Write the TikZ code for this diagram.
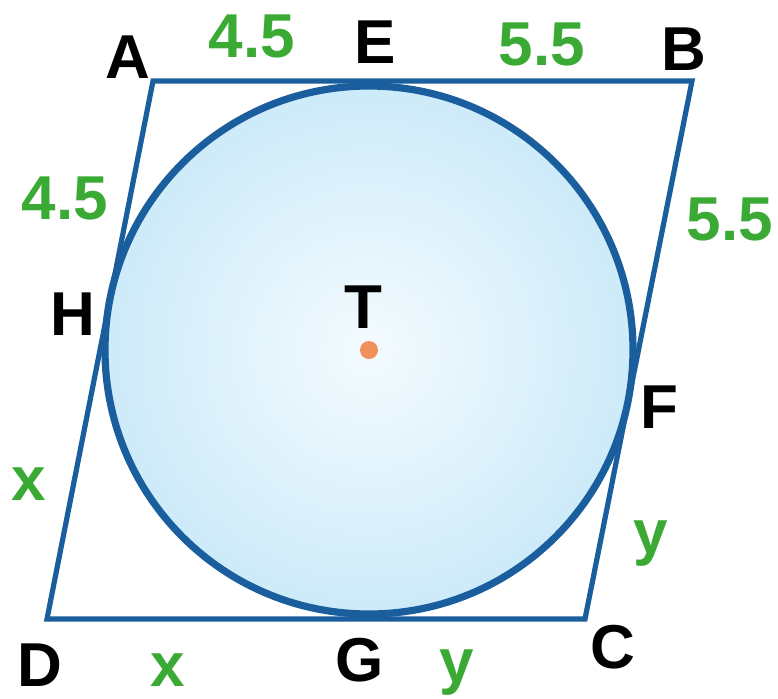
\documentclass[tikz,border=0pt]{standalone}
\usepackage{fontspec}
\setmainfont{Liberation Sans}
\usepackage{xcolor}
\usepackage{tikz}
\definecolor{edgeblue}{HTML}{1B5E9E}
\definecolor{lengreen}{HTML}{3AAA35}
\definecolor{dotorange}{HTML}{F0905A}
\definecolor{discin}{HTML}{F4FBFE}
\definecolor{discout}{HTML}{A6DAF4}
\pgfdeclareradialshading{discshade}{\pgfpointorigin}{color(0bp)=(discin); color(50bp)=(discout)}
\tikzset{
  quadside/.style={line width=2.6pt, edgeblue, line join=miter},
  incircle/.style={line width=3.6pt, draw=edgeblue, shading=discshade},
  pointlbl/.style={anchor=base, inner sep=0pt, font=\fontsize{31}{36}\selectfont\bfseries, black},
  lenlbl/.style={anchor=base, inner sep=0pt, font=\fontsize{31}{36}\selectfont\bfseries, lengreen},
}

\begin{document}
\begin{tikzpicture}[x=0.5pt,y=-0.5pt]
\useasboundingbox (0,0) rectangle (778,698);
\coordinate (A) at (153,81);
\coordinate (B) at (692,81);
\coordinate (C) at (585,619);
\coordinate (D) at (47,619);
\coordinate (T) at (369,350);
\draw[quadside] (A) -- (B) -- (C) -- (D) -- cycle;
\shadedraw[incircle] (T) circle (132pt);
\fill[dotorange] (T) circle (4.5pt);
% vertices and points of contact
\node[pointlbl] (lA) at (128,78) {A};
\node[pointlbl] (lB) at (684,70) {B};
\node[pointlbl] (lC) at (613,668) {C};
\node[pointlbl] (lD) at (40,686) {D};
\node[pointlbl] (lE) at (375,63) {E};
\node[pointlbl] (lF) at (659,428) {F};
\node[pointlbl] (lG) at (360,681) {G};
\node[pointlbl] (lH) at (73,335) {H};
\node[pointlbl] (lT) at (363,328) {T};
% tangent lengths
\node[lenlbl] (lAE) at (252,57) {4.5};
\node[lenlbl] (lEB) at (542,65) {5.5};
\node[lenlbl] (lAH) at (65,219) {4.5};
\node[lenlbl] (lBF) at (730,240) {5.5};
\node[lenlbl] (lHD) at (29,500) {x};
\node[lenlbl] (lDG) at (168,686) {x};
\node[lenlbl] (lGC) at (457,682) {y};
\node[lenlbl] (lFC) at (651,553) {y};
\end{tikzpicture}
\end{document}
